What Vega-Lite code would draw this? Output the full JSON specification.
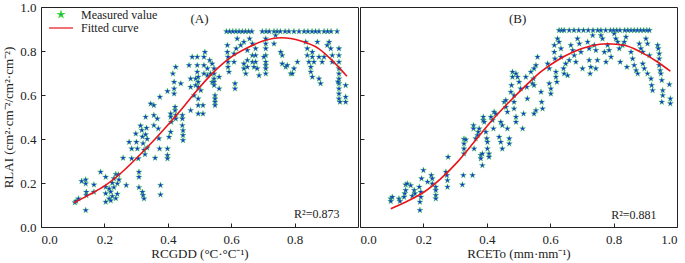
{
  "$schema": "https://vega.github.io/schema/vega-lite/v6.json",
  "background": "white",
  "padding": {"left": 2, "top": 0, "right": 0, "bottom": 0},
  "spacing": 0,
  "config": {
    "font": "Liberation Serif",
    "view": {"stroke": "#222222", "strokeWidth": 1},
    "axis": {
      "grid": false,
      "domain": false,
      "tickSize": -4,
      "tickColor": "#222222",
      "labelColor": "#222222",
      "labelFont": "Liberation Serif",
      "labelFontSize": 13,
      "labelPadding": 9,
      "titleFont": "Liberation Serif",
      "titleFontSize": 13,
      "titleFontWeight": "normal",
      "titleColor": "#222222"
    },
    "axisX": {"labelPadding": 10, "titlePadding": 1},
    "text": {"font": "Liberation Serif", "color": "#222222"}
  },
  "resolve": {
    "scale": {"fill": "independent", "stroke": "independent", "shape": "independent"},
    "legend": {"fill": "independent", "stroke": "independent", "shape": "independent"}
  },
  "datasets": {
    "ptsA": [
      {"x":0.107,"y":0.111},{"x":0.118,"y":0.129},{"x":0.111,"y":0.118},{"x":0.128,"y":0.208},{"x":0.141,"y":0.215},{"x":0.141,"y":0.197},{"x":0.143,"y":0.159},{"x":0.143,"y":0.144},{"x":0.141,"y":0.076},{"x":0.167,"y":0.192},{"x":0.167,"y":0.159},{"x":0.188,"y":0.25},{"x":0.204,"y":0.227},{"x":0.204,"y":0.182},{"x":0.204,"y":0.152},{"x":0.204,"y":0.114},{"x":0.215,"y":0.174},{"x":0.215,"y":0.129},
      {"x":0.22,"y":0.12},{"x":0.22,"y":0.16},{"x":0.225,"y":0.14},{"x":0.225,"y":0.2},{"x":0.23,"y":0.18},{"x":0.23,"y":0.22},{"x":0.236,"y":0.13},{"x":0.236,"y":0.24},{"x":0.241,"y":0.197},{"x":0.241,"y":0.15},{"x":0.244,"y":0.238},{"x":0.246,"y":0.215},
      {"x":0.259,"y":0.314},{"x":0.269,"y":0.19},{"x":0.278,"y":0.386},{"x":0.286,"y":0.356},{"x":0.286,"y":0.311},{"x":0.299,"y":0.424},{"x":0.301,"y":0.386},{"x":0.304,"y":0.356},{"x":0.307,"y":0.311},{"x":0.309,"y":0.25},{"x":0.309,"y":0.227},{"x":0.309,"y":0.18},{"x":0.32,"y":0.159},{"x":0.322,"y":0.144},{"x":0.325,"y":0.129},
      {"x":0.314,"y":0.46},{"x":0.318,"y":0.44},{"x":0.32,"y":0.41},{"x":0.322,"y":0.38},{"x":0.325,"y":0.35},{"x":0.328,"y":0.33},{"x":0.33,"y":0.42},{"x":0.33,"y":0.5},{"x":0.333,"y":0.45},{"x":0.335,"y":0.36},{"x":0.335,"y":0.4},
      {"x":0.346,"y":0.56},{"x":0.356,"y":0.553},{"x":0.356,"y":0.508},{"x":0.356,"y":0.462},{"x":0.367,"y":0.492},{"x":0.37,"y":0.447},{"x":0.372,"y":0.402},{"x":0.374,"y":0.356},{"x":0.375,"y":0.591},{"x":0.377,"y":0.19},{"x":0.377,"y":0.147},{"x":0.36,"y":0.314},
      {"x":0.399,"y":0.617},{"x":0.399,"y":0.356},{"x":0.399,"y":0.326},{"x":0.399,"y":0.311},{"x":0.404,"y":0.409},{"x":0.409,"y":0.432},{"x":0.409,"y":0.5},{"x":0.409,"y":0.515},{"x":0.411,"y":0.477},{"x":0.416,"y":0.697},{"x":0.42,"y":0.659},{"x":0.42,"y":0.629},{"x":0.42,"y":0.606},{"x":0.425,"y":0.727},{"x":0.423,"y":0.545},{"x":0.423,"y":0.53},{"x":0.425,"y":0.508},{"x":0.425,"y":0.492},
      {"x":0.441,"y":0.652},{"x":0.446,"y":0.508},{"x":0.446,"y":0.492},{"x":0.446,"y":0.462},{"x":0.448,"y":0.439},{"x":0.448,"y":0.417},{"x":0.448,"y":0.394},{"x":0.467,"y":0.735},{"x":0.472,"y":0.674},{"x":0.472,"y":0.636},{"x":0.472,"y":0.53},{"x":0.477,"y":0.773},{"x":0.483,"y":0.598},{"x":0.488,"y":0.674},{"x":0.488,"y":0.644},
      {"x":0.493,"y":0.773},{"x":0.493,"y":0.735},{"x":0.493,"y":0.705},{"x":0.496,"y":0.682},{"x":0.496,"y":0.659},{"x":0.496,"y":0.636},{"x":0.496,"y":0.583},{"x":0.496,"y":0.553},{"x":0.496,"y":0.515},{"x":0.504,"y":0.621},{"x":0.514,"y":0.773},{"x":0.514,"y":0.735},{"x":0.514,"y":0.697},{"x":0.517,"y":0.795},{"x":0.511,"y":0.553},{"x":0.511,"y":0.515},
      {"x":0.525,"y":0.689},{"x":0.525,"y":0.72},{"x":0.532,"y":0.758},{"x":0.535,"y":0.697},{"x":0.54,"y":0.659},{"x":0.54,"y":0.742},{"x":0.546,"y":0.72},{"x":0.546,"y":0.697},{"x":0.546,"y":0.674},{"x":0.546,"y":0.659},{"x":0.546,"y":0.644},{"x":0.549,"y":0.598},{"x":0.549,"y":0.568},{"x":0.549,"y":0.553},{"x":0.549,"y":0.583},{"x":0.562,"y":0.682},{"x":0.562,"y":0.629},
      {"x":0.588,"y":0.826},{"x":0.588,"y":0.795},{"x":0.59,"y":0.773},{"x":0.59,"y":0.75},{"x":0.59,"y":0.727},{"x":0.593,"y":0.705},{"x":0.609,"y":0.788},{"x":0.609,"y":0.75},{"x":0.612,"y":0.652},{"x":0.612,"y":0.629},{"x":0.616,"y":0.811},{"x":0.619,"y":0.856},{"x":0.63,"y":0.826},{"x":0.64,"y":0.841},{"x":0.651,"y":0.803},{"x":0.651,"y":0.758},{"x":0.651,"y":0.727},{"x":0.64,"y":0.742},{"x":0.64,"y":0.72},{"x":0.646,"y":0.697},
      {"x":0.658,"y":0.856},{"x":0.667,"y":0.833},{"x":0.667,"y":0.78},{"x":0.667,"y":0.75},{"x":0.672,"y":0.727},{"x":0.677,"y":0.811},{"x":0.677,"y":0.78},{"x":0.677,"y":0.75},{"x":0.682,"y":0.72},{"x":0.688,"y":0.689},
      {"x":0.709,"y":0.856},{"x":0.709,"y":0.833},{"x":0.709,"y":0.811},{"x":0.709,"y":0.78},{"x":0.709,"y":0.75},{"x":0.709,"y":0.735},{"x":0.709,"y":0.72},{"x":0.709,"y":0.697},{"x":0.703,"y":0.773},{"x":0.735,"y":0.833},{"x":0.74,"y":0.871},{"x":0.756,"y":0.795},{"x":0.761,"y":0.78},{"x":0.761,"y":0.742},{"x":0.772,"y":0.727},{"x":0.777,"y":0.735},{"x":0.788,"y":0.697},{"x":0.793,"y":0.697},{"x":0.798,"y":0.72},{"x":0.809,"y":0.75},
      {"x":0.835,"y":0.841},{"x":0.84,"y":0.811},{"x":0.84,"y":0.78},{"x":0.845,"y":0.75},{"x":0.851,"y":0.727},{"x":0.851,"y":0.705},{"x":0.856,"y":0.682},{"x":0.856,"y":0.795},{"x":0.856,"y":0.773},{"x":0.861,"y":0.75},{"x":0.872,"y":0.841},{"x":0.877,"y":0.773},{"x":0.877,"y":0.674},{"x":0.882,"y":0.652},{"x":0.887,"y":0.75},{"x":0.893,"y":0.773},{"x":0.903,"y":0.826},{"x":0.909,"y":0.841},{"x":0.914,"y":0.811},{"x":0.919,"y":0.78},{"x":0.919,"y":0.75},
      {"x":0.94,"y":0.811},{"x":0.94,"y":0.78},{"x":0.94,"y":0.75},{"x":0.94,"y":0.72},{"x":0.94,"y":0.697},{"x":0.94,"y":0.674},{"x":0.94,"y":0.652},{"x":0.94,"y":0.629},{"x":0.94,"y":0.606},{"x":0.94,"y":0.583},{"x":0.943,"y":0.568},{"x":0.937,"y":0.66},{"x":0.961,"y":0.644},{"x":0.961,"y":0.591},{"x":0.961,"y":0.568},
      {"x":0.585,"y":0.889},{"x":0.595,"y":0.889},{"x":0.605,"y":0.889},{"x":0.615,"y":0.889},{"x":0.625,"y":0.889},{"x":0.635,"y":0.889},{"x":0.645,"y":0.889},{"x":0.655,"y":0.889},{"x":0.665,"y":0.889},{"x":0.698,"y":0.889},{"x":0.71,"y":0.889},{"x":0.72,"y":0.889},{"x":0.735,"y":0.889},{"x":0.745,"y":0.889},{"x":0.755,"y":0.889},{"x":0.77,"y":0.889},{"x":0.782,"y":0.889},{"x":0.798,"y":0.889},{"x":0.814,"y":0.889},{"x":0.83,"y":0.889},{"x":0.842,"y":0.889},{"x":0.855,"y":0.889},{"x":0.866,"y":0.889},{"x":0.877,"y":0.889},{"x":0.893,"y":0.889},{"x":0.904,"y":0.889},{"x":0.915,"y":0.889},{"x":0.934,"y":0.889}
    ],
    "ptsB": [
      {"x":0.097,"y":0.129},{"x":0.097,"y":0.117},{"x":0.102,"y":0.136},{"x":0.123,"y":0.129},{"x":0.126,"y":0.117},{"x":0.139,"y":0.136},{"x":0.141,"y":0.152},{"x":0.144,"y":0.167},{"x":0.144,"y":0.192},{"x":0.149,"y":0.197},{"x":0.16,"y":0.189},{"x":0.165,"y":0.141},{"x":0.171,"y":0.167},{"x":0.173,"y":0.152},{"x":0.187,"y":0.182},{"x":0.192,"y":0.159},{"x":0.192,"y":0.136},{"x":0.189,"y":0.114},{"x":0.189,"y":0.076},{"x":0.194,"y":0.22},{"x":0.2,"y":0.258},{"x":0.213,"y":0.205},{"x":0.225,"y":0.235},{"x":0.228,"y":0.22},{"x":0.228,"y":0.197},{"x":0.239,"y":0.182},{"x":0.239,"y":0.167},{"x":0.239,"y":0.144},{"x":0.239,"y":0.129},
      {"x":0.271,"y":0.25},{"x":0.274,"y":0.235},{"x":0.276,"y":0.212},{"x":0.276,"y":0.182},{"x":0.278,"y":0.318},{"x":0.323,"y":0.192},{"x":0.326,"y":0.235},{"x":0.328,"y":0.4},{"x":0.328,"y":0.379},{"x":0.328,"y":0.356},{"x":0.328,"y":0.333},{"x":0.334,"y":0.397},{"x":0.355,"y":0.235},{"x":0.358,"y":0.462},{"x":0.358,"y":0.447},{"x":0.36,"y":0.356},{"x":0.365,"y":0.402},{"x":0.371,"y":0.417},{"x":0.373,"y":0.432},{"x":0.376,"y":0.447},{"x":0.381,"y":0.326},{"x":0.381,"y":0.311},{"x":0.386,"y":0.333},{"x":0.386,"y":0.28},
      {"x":0.389,"y":0.5},{"x":0.389,"y":0.485},{"x":0.392,"y":0.477},{"x":0.397,"y":0.432},{"x":0.4,"y":0.402},{"x":0.402,"y":0.386},{"x":0.402,"y":0.356},{"x":0.407,"y":0.333},{"x":0.407,"y":0.318},{"x":0.413,"y":0.5},{"x":0.418,"y":0.485},{"x":0.421,"y":0.447},{"x":0.423,"y":0.523},{"x":0.428,"y":0.515},{"x":0.439,"y":0.409},{"x":0.444,"y":0.386},{"x":0.449,"y":0.356},{"x":0.444,"y":0.477},{"x":0.449,"y":0.462},
      {"x":0.455,"y":0.568},{"x":0.46,"y":0.576},{"x":0.46,"y":0.545},{"x":0.465,"y":0.523},{"x":0.465,"y":0.447},{"x":0.471,"y":0.402},{"x":0.471,"y":0.379},{"x":0.476,"y":0.614},{"x":0.478,"y":0.644},{"x":0.481,"y":0.682},{"x":0.481,"y":0.705},{"x":0.492,"y":0.697},{"x":0.497,"y":0.682},{"x":0.486,"y":0.598},{"x":0.486,"y":0.568},{"x":0.486,"y":0.538},{"x":0.492,"y":0.5},{"x":0.492,"y":0.477},
      {"x":0.502,"y":0.659},{"x":0.507,"y":0.629},{"x":0.513,"y":0.447},{"x":0.516,"y":0.515},{"x":0.523,"y":0.682},{"x":0.526,"y":0.636},{"x":0.528,"y":0.583},{"x":0.539,"y":0.705},{"x":0.544,"y":0.652},{"x":0.547,"y":0.674},{"x":0.549,"y":0.644},{"x":0.555,"y":0.735},{"x":0.56,"y":0.773},{"x":0.549,"y":0.72},{"x":0.555,"y":0.53},{"x":0.549,"y":0.515},{"x":0.571,"y":0.614},{"x":0.573,"y":0.568},{"x":0.576,"y":0.538},
      {"x":0.592,"y":0.742},{"x":0.597,"y":0.72},{"x":0.597,"y":0.652},{"x":0.602,"y":0.629},{"x":0.602,"y":0.606},{"x":0.613,"y":0.826},{"x":0.613,"y":0.795},{"x":0.615,"y":0.765},{"x":0.618,"y":0.705},{"x":0.618,"y":0.682},{"x":0.621,"y":0.659},{"x":0.623,"y":0.856},{"x":0.628,"y":0.841},{"x":0.634,"y":0.811},{"x":0.634,"y":0.773},{"x":0.642,"y":0.72},{"x":0.644,"y":0.697},{"x":0.649,"y":0.742},{"x":0.655,"y":0.689},{"x":0.66,"y":0.758},
      {"x":0.665,"y":0.826},{"x":0.671,"y":0.803},{"x":0.676,"y":0.78},{"x":0.681,"y":0.75},{"x":0.686,"y":0.856},{"x":0.692,"y":0.833},{"x":0.697,"y":0.795},{"x":0.702,"y":0.72},{"x":0.718,"y":0.841},{"x":0.723,"y":0.811},{"x":0.723,"y":0.758},{"x":0.728,"y":0.727},{"x":0.726,"y":0.697},{"x":0.734,"y":0.871},{"x":0.739,"y":0.826},{"x":0.744,"y":0.803},{"x":0.749,"y":0.758},{"x":0.744,"y":0.72},
      {"x":0.76,"y":0.871},{"x":0.765,"y":0.856},{"x":0.771,"y":0.795},{"x":0.776,"y":0.75},{"x":0.781,"y":0.826},{"x":0.786,"y":0.803},{"x":0.792,"y":0.773},{"x":0.802,"y":0.879},{"x":0.807,"y":0.856},{"x":0.813,"y":0.841},{"x":0.818,"y":0.811},{"x":0.821,"y":0.75},{"x":0.828,"y":0.826},{"x":0.834,"y":0.841},{"x":0.839,"y":0.864},{"x":0.842,"y":0.727},
      {"x":0.855,"y":0.795},{"x":0.86,"y":0.765},{"x":0.865,"y":0.735},{"x":0.871,"y":0.712},{"x":0.876,"y":0.697},{"x":0.881,"y":0.833},{"x":0.886,"y":0.811},{"x":0.892,"y":0.795},{"x":0.892,"y":0.742},{"x":0.897,"y":0.72},{"x":0.902,"y":0.856},{"x":0.907,"y":0.833},{"x":0.913,"y":0.78},{"x":0.907,"y":0.697},{"x":0.918,"y":0.674},{"x":0.92,"y":0.644},{"x":0.923,"y":0.621},
      {"x":0.939,"y":0.826},{"x":0.941,"y":0.811},{"x":0.944,"y":0.788},{"x":0.944,"y":0.765},{"x":0.944,"y":0.735},{"x":0.947,"y":0.712},{"x":0.949,"y":0.697},{"x":0.952,"y":0.667},{"x":0.955,"y":0.621},{"x":0.955,"y":0.598},{"x":0.952,"y":0.568},{"x":0.976,"y":0.648},{"x":0.979,"y":0.583},{"x":0.979,"y":0.561},
      {"x":0.628,"y":0.894},{"x":0.636,"y":0.894},{"x":0.644,"y":0.894},{"x":0.66,"y":0.894},{"x":0.675,"y":0.894},{"x":0.69,"y":0.894},{"x":0.705,"y":0.894},{"x":0.72,"y":0.894},{"x":0.735,"y":0.894},{"x":0.75,"y":0.894},{"x":0.76,"y":0.894},{"x":0.775,"y":0.894},{"x":0.79,"y":0.894},{"x":0.8,"y":0.894},{"x":0.81,"y":0.894},{"x":0.82,"y":0.894},{"x":0.835,"y":0.894},{"x":0.845,"y":0.894},{"x":0.855,"y":0.894},{"x":0.865,"y":0.894},{"x":0.875,"y":0.894},{"x":0.885,"y":0.894},{"x":0.895,"y":0.894},{"x":0.905,"y":0.894},{"x":0.913,"y":0.894}
    ],
    "curveA": [
      {"x":0.104,"y":0.11},{"x":0.15,"y":0.145},{"x":0.204,"y":0.19},{"x":0.256,"y":0.25},{"x":0.32,"y":0.34},{"x":0.36,"y":0.4},{"x":0.398,"y":0.46},{"x":0.446,"y":0.54},{"x":0.488,"y":0.614},{"x":0.54,"y":0.697},{"x":0.593,"y":0.765},{"x":0.656,"y":0.818},{"x":0.7,"y":0.845},{"x":0.76,"y":0.86},{"x":0.82,"y":0.845},{"x":0.877,"y":0.81},{"x":0.92,"y":0.755},{"x":0.965,"y":0.685}
    ],
    "curveB": [
      {"x":0.097,"y":0.083},{"x":0.149,"y":0.117},{"x":0.202,"y":0.159},{"x":0.255,"y":0.22},{"x":0.307,"y":0.295},{"x":0.36,"y":0.386},{"x":0.412,"y":0.477},{"x":0.465,"y":0.56},{"x":0.518,"y":0.636},{"x":0.57,"y":0.705},{"x":0.623,"y":0.758},{"x":0.676,"y":0.798},{"x":0.728,"y":0.823},{"x":0.781,"y":0.833},{"x":0.834,"y":0.826},{"x":0.886,"y":0.795},{"x":0.939,"y":0.75},{"x":0.979,"y":0.708}
    ],
    "notesA": [{"panel": "(A)", "r2": "R²=0.873"}],
    "notesB": [{"panel": "(B)", "r2": "R²=0.881"}]
  },
  "hconcat": [
    {
      "width": 317,
      "height": 220,
      "layer": [
        {
          "data": {"name": "ptsA"},
          "mark": {"type": "point", "filled": true, "size": 40, "strokeWidth": 0.35, "opacity": 1},
          "encoding": {
            "x": {"field": "x", "type": "quantitative", "scale": {"domain": [0, 1], "nice": false},
                  "axis": {"values": [0, 0.2, 0.4, 0.6, 0.8], "format": ".1f", "title": "RCGDD (°C·°C⁻¹)"}},
            "y": {"field": "y", "type": "quantitative", "scale": {"domain": [0, 1], "nice": false},
                  "axis": {"values": [0, 0.2, 0.4, 0.6, 0.8, 1.0], "format": ".1f", "title": "RLAI (cm²·cm⁻²/cm²·cm⁻²)", "titlePadding": 4}},
            "fill": {
              "datum": "Measured value", "type": "nominal",
              "scale": {"domain": ["Measured value", "Fitted curve"], "range": ["#1a36d4", "#e8141b"]},
              "legend": {"title": null, "orient": "none", "legendX": 14, "legendY": 1.5, "padding": 0, "labelFont": "Liberation Serif", "labelFontSize": 12, "labelColor": "#222222", "symbolSize": 36, "symbolStrokeWidth": 1.2, "labelOffset": 14, "rowPadding": 1.5}
            },
            "stroke": {
              "datum": "Measured value", "type": "nominal",
              "scale": {"domain": ["Measured value", "Fitted curve"], "range": ["#36d936", "#e8141b"]},
              "legend": {"title": null, "orient": "none", "legendX": 14, "legendY": 1.5, "padding": 0, "labelFont": "Liberation Serif", "labelFontSize": 12, "labelColor": "#222222", "symbolSize": 36, "symbolStrokeWidth": 1.2, "labelOffset": 14, "rowPadding": 1.5}
            },
            "shape": {
              "datum": "Measured value", "type": "nominal",
              "scale": {"domain": ["Measured value", "Fitted curve"], "range": ["M0,-1L0.225,-0.309L0.951,-0.309L0.363,0.118L0.588,0.809L0,0.382L-0.588,0.809L-0.363,0.118L-0.951,-0.309L-0.225,-0.309Z", "M-4,0L4,0"]},
              "legend": {"title": null, "orient": "none", "legendX": 14, "legendY": 1.5, "padding": 0, "labelFont": "Liberation Serif", "labelFontSize": 12, "labelColor": "#222222", "symbolSize": 36, "symbolStrokeWidth": 1.2, "labelOffset": 14, "rowPadding": 1.5}
            }
          }
        },
        {
          "data": {"name": "curveA"},
          "mark": {"type": "line", "strokeWidth": 1.6, "interpolate": "monotone"},
          "encoding": {
            "x": {"field": "x", "type": "quantitative"},
            "y": {"field": "y", "type": "quantitative"},
            "stroke": {"datum": "Fitted curve", "type": "nominal"}
          }
        },
        {
          "data": {"name": "notesA"},
          "mark": {"type": "text", "fontSize": 13},
          "encoding": {"x": {"datum": 0.5}, "y": {"datum": 0.947}, "text": {"field": "panel"}}
        },
        {
          "data": {"name": "notesA"},
          "mark": {"type": "text", "fontSize": 12},
          "encoding": {"x": {"datum": 0.87}, "y": {"datum": 0.06}, "text": {"field": "r2"}}
        }
      ]
    },
    {
      "width": 317,
      "height": 220,
      "layer": [
        {
          "data": {"name": "ptsB"},
          "mark": {"type": "point", "shape": "M0,-1L0.225,-0.309L0.951,-0.309L0.363,0.118L0.588,0.809L0,0.382L-0.588,0.809L-0.363,0.118L-0.951,-0.309L-0.225,-0.309Z", "filled": true, "size": 40, "fill": "#1a36d4", "stroke": "#36d936", "strokeWidth": 0.35, "opacity": 1},
          "encoding": {
            "x": {"field": "x", "type": "quantitative", "scale": {"domain": [0, 1], "nice": false},
                  "axis": {"values": [0, 0.2, 0.4, 0.6, 0.8, 1.0], "format": ".1f", "title": "RCETo (mm·mm⁻¹)"}},
            "y": {"field": "y", "type": "quantitative", "scale": {"domain": [0, 1], "nice": false},
                  "axis": {"values": [0, 0.2, 0.4, 0.6, 0.8, 1.0], "labels": false, "title": null}}
          }
        },
        {
          "data": {"name": "curveB"},
          "mark": {"type": "line", "strokeWidth": 1.6, "interpolate": "monotone", "stroke": "#e8141b"},
          "encoding": {
            "x": {"field": "x", "type": "quantitative"},
            "y": {"field": "y", "type": "quantitative"}
          }
        },
        {
          "data": {"name": "notesB"},
          "mark": {"type": "text", "fontSize": 13},
          "encoding": {"x": {"datum": 0.497}, "y": {"datum": 0.947}, "text": {"field": "panel"}}
        },
        {
          "data": {"name": "notesB"},
          "mark": {"type": "text", "fontSize": 12},
          "encoding": {"x": {"datum": 0.864}, "y": {"datum": 0.056}, "text": {"field": "r2"}}
        }
      ]
    }
  ]
}
